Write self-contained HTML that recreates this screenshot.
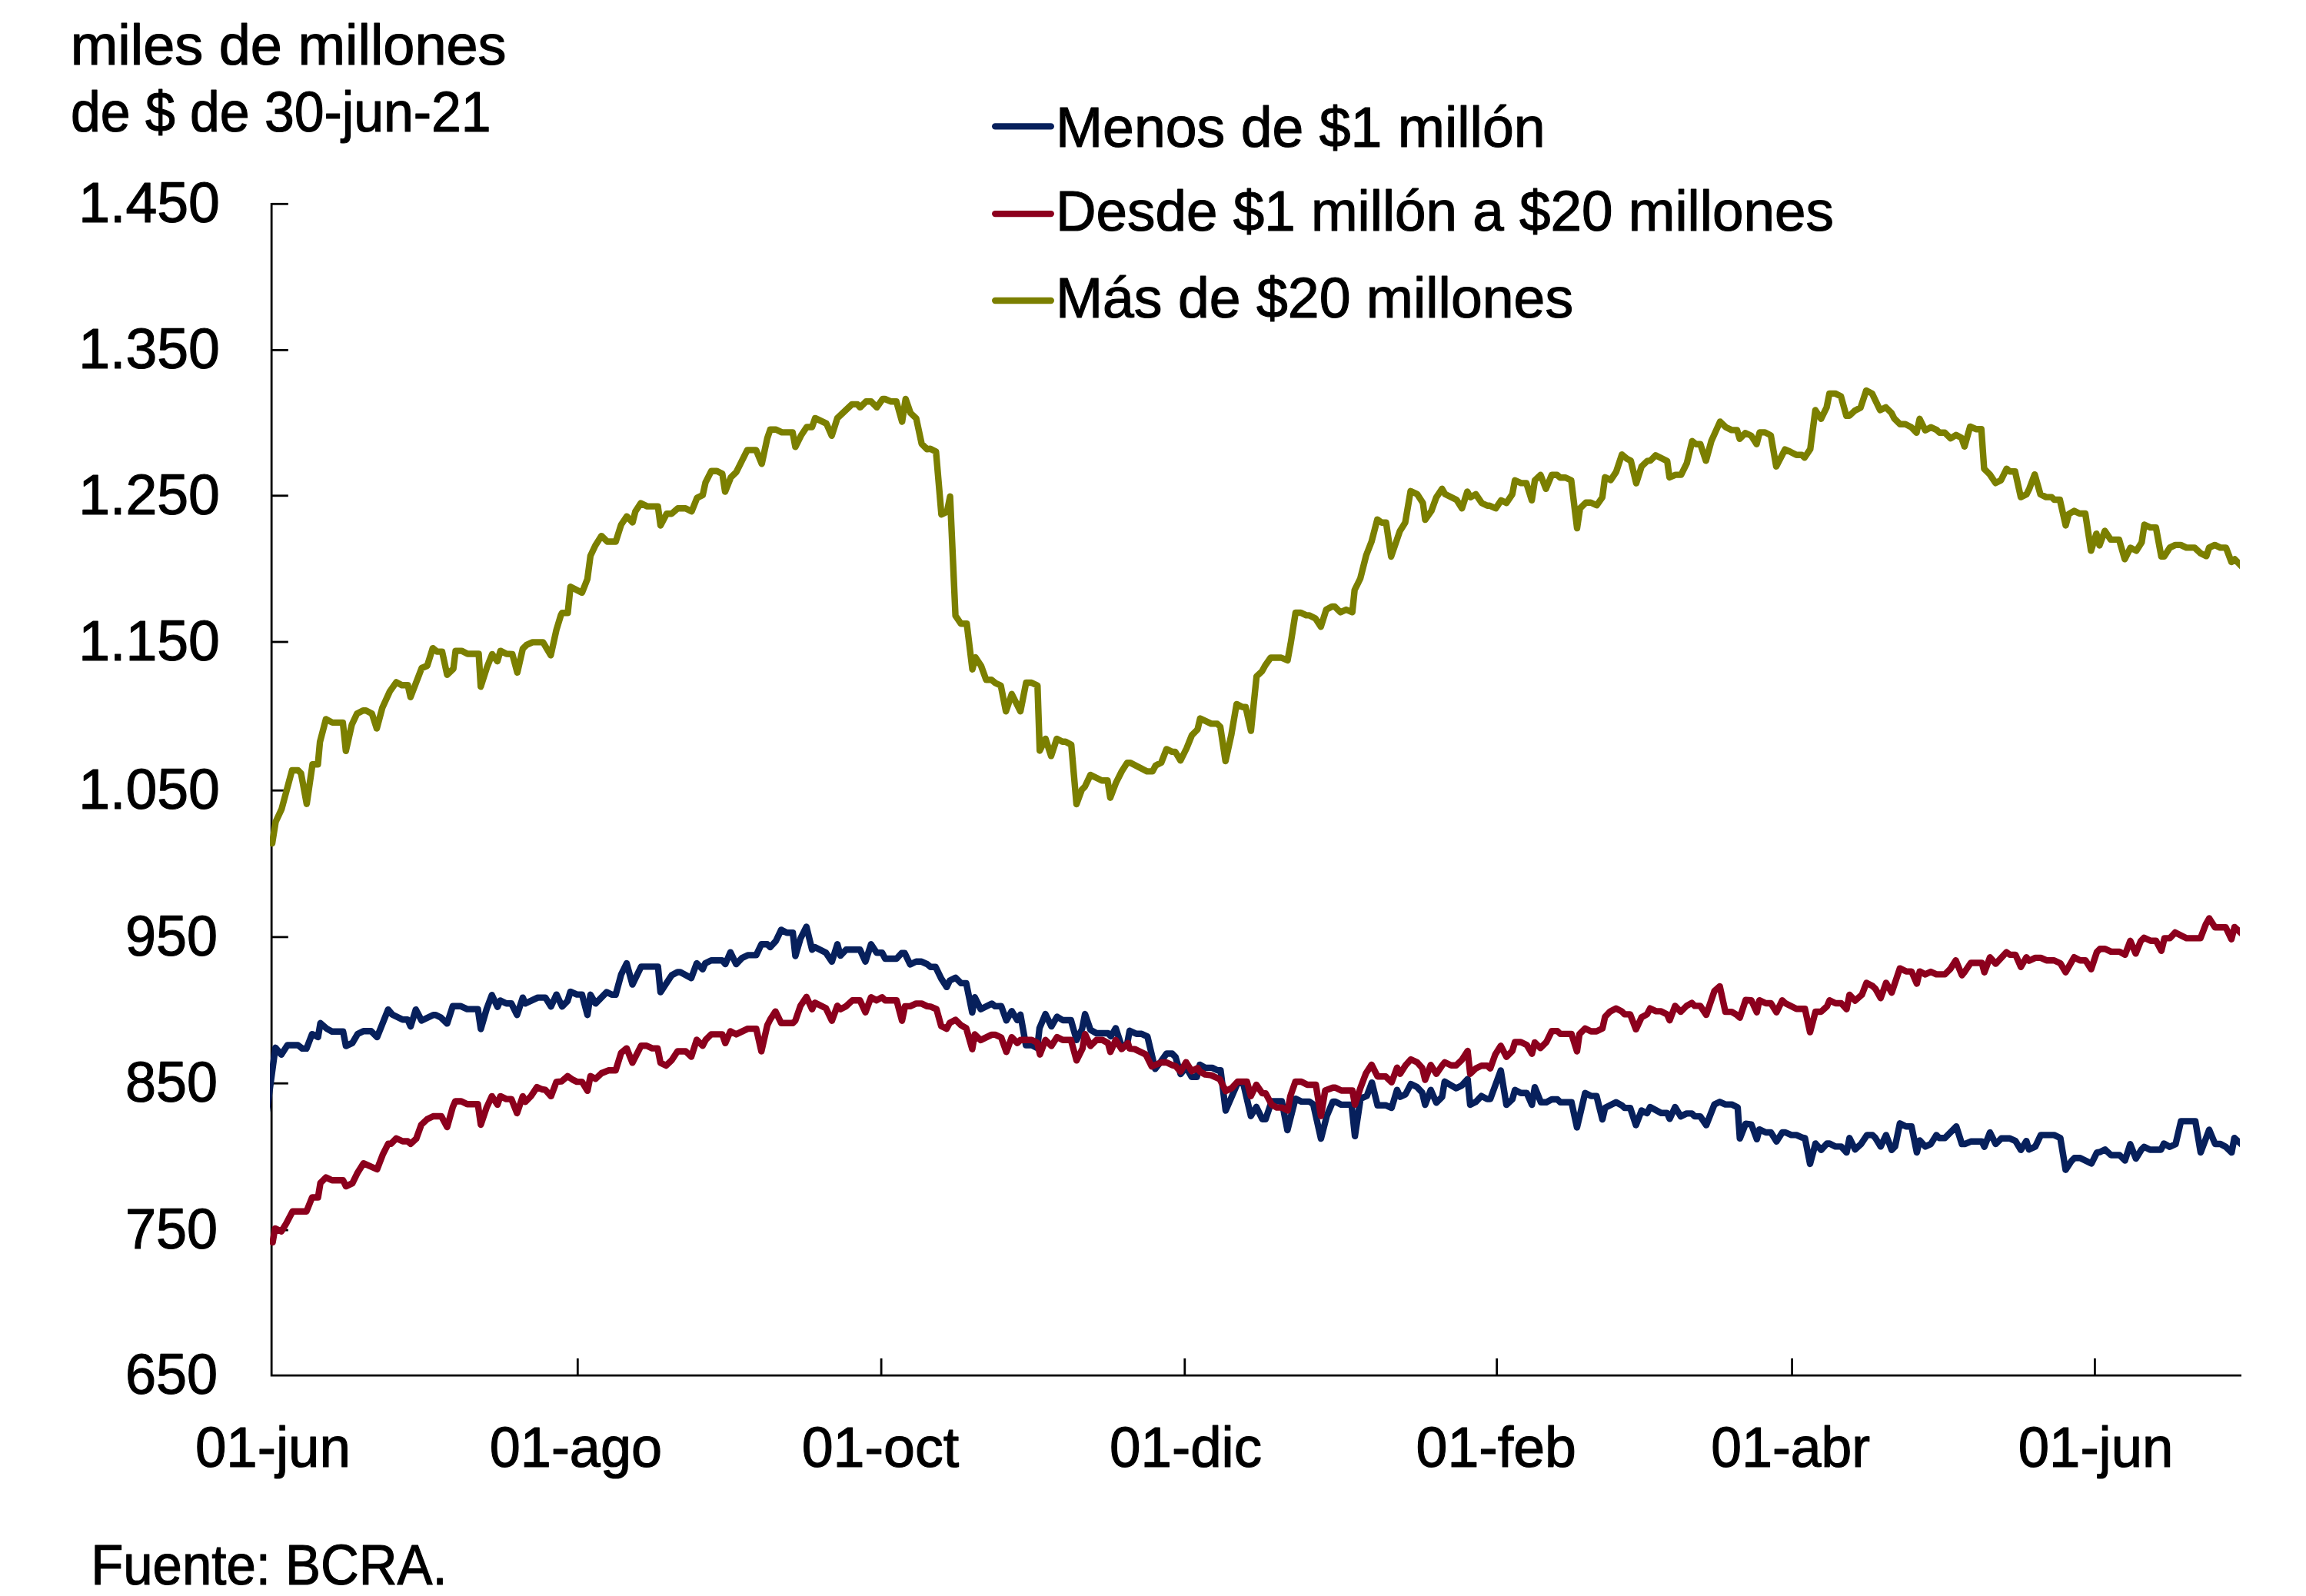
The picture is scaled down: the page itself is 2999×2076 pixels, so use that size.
<!DOCTYPE html>
<html lang="es"><head><meta charset="utf-8"><title>Gráfico</title>
<style>html,body{margin:0;padding:0;background:#fff}svg{display:block}text{font-family:"Liberation Sans", sans-serif;fill:#000;stroke:#000;stroke-width:1.2px;stroke-linejoin:round}</style></head>
<body>
<svg width="2999" height="2076" viewBox="0 0 2999 2076">
<rect width="2999" height="2076" fill="#fff"/>
<defs><clipPath id="plot"><rect x="351" y="200" width="2561.9" height="1600"/></clipPath></defs>
<g stroke="#000" stroke-width="2.8" fill="none">
<path d="M353.15,263.9V1789.1H2915"/>
<path d="M353.15,265.3H374.8"/>
<path d="M353.15,455.4H374.8"/>
<path d="M353.15,644.8H374.8"/>
<path d="M353.15,835H374.8"/>
<path d="M353.15,1028.2H374.8"/>
<path d="M353.15,1218.9H374.8"/>
<path d="M353.15,1409.2H374.8"/>
<path d="M353.15,1600.1H374.8"/>
<path d="M751.3,1789.1V1766.9"/>
<path d="M1146.1,1789.1V1766.9"/>
<path d="M1540.8,1789.1V1766.9"/>
<path d="M1946.7,1789.1V1766.9"/>
<path d="M2330.6,1789.1V1766.9"/>
<path d="M2724.4,1789.1V1766.9"/>
</g>
<g fill="none" stroke-width="8.4" stroke-linejoin="round" stroke-linecap="round" clip-path="url(#plot)">
<polyline stroke="#07205c" points="340,1496.9 358.2,1362.8 365.9,1371.7 373.8,1359.5 387.5,1359.5 393.1,1363.9 398.6,1363.9 405.9,1345.1 413.6,1349.1 416.7,1330.8 425.1,1338.1 431.8,1341.8 446.2,1341.8 449.9,1360.6 458.3,1356.6 465,1345.1 472.7,1341.2 482.6,1341.2 490.4,1349.1 504.8,1313.1 510.3,1319.7 523.6,1326.3 530.2,1326.3 534,1335.2 540.8,1313.1 548.3,1327.5 563.4,1320.2 566.7,1320.2 573.3,1323.5 581.5,1331.4 588.8,1308.7 598.8,1308.7 607.6,1312.6 621.5,1312.6 625.3,1338.5 633,1312 639.7,1294.3 647,1309.8 650.7,1301.4 658.5,1305.3 665.1,1305.3 672.4,1320.2 679.9,1297.6 683.2,1305.3 699.4,1297.6 709.3,1297.6 716.6,1309.3 723.7,1293.6 731,1309.3 738.1,1302 741.8,1289.9 750.3,1293.6 756.9,1293.6 764,1320.2 767.9,1293.8 774.6,1305.3 789,1290.5 795.6,1293.8 800.7,1293.8 807.8,1267.7 815,1253 822.5,1280.6 833.8,1257.4 855.7,1257.4 859,1290.6 866.3,1279.5 873.6,1268.5 881.1,1264.5 884.7,1264.5 899,1272.2 906.1,1253 913.8,1260.7 917.2,1253 924.9,1249.2 939.3,1249.2 943.3,1254.1 949.9,1238.6 957.4,1254.1 964.7,1246.3 972.5,1242.4 983.5,1242.4 990.2,1228.2 997.9,1228.2 1001.7,1232 1008.9,1224.2 1016,1209.4 1023.3,1213.2 1031.1,1213.2 1034.4,1243.5 1041,1220.9 1048.8,1205.4 1056.1,1235.3 1059.8,1232 1074.2,1239.3 1081.9,1250.8 1089,1228.2 1093,1243 1100.3,1235.3 1118.4,1235.3 1125.5,1250.8 1132.8,1228.2 1140.1,1239.3 1147.2,1239.3 1151.2,1247 1166,1247 1172.6,1239.7 1176.6,1239.7 1183.7,1254.5 1191.4,1250.8 1198.5,1250.8 1205.8,1254.1 1210.2,1257.8 1216.8,1257.8 1224.1,1272.9 1231.2,1283.9 1235.2,1275.5 1242.7,1271.8 1250,1278.9 1256.6,1278.9 1264.4,1317.1 1267.7,1297.2 1275.4,1312.7 1289.8,1305.4 1294.2,1308.9 1302.1,1308.6 1308.8,1327.4 1315.8,1315.2 1323.1,1327 1327.1,1319.7 1334.2,1359.5 1341.9,1359.5 1349,1363.2 1351.9,1337.4 1359.6,1319 1367.4,1335.1 1374.7,1322.5 1382.2,1327 1392.8,1327 1400.1,1352.8 1407.2,1338.5 1411.1,1319 1418.2,1339.6 1426,1344 1441,1344 1444.8,1348 1451,1337.4 1458.7,1360.6 1465.8,1358.4 1469.1,1340.7 1477.9,1344.7 1484.6,1344.7 1492.3,1348.4 1502.3,1390.4 1510,1380.5 1517.1,1370.5 1524.4,1370.5 1528.8,1375 1535.4,1397.1 1542.5,1388.2 1549.8,1400.8 1556.5,1400.8 1560.4,1384.9 1567.5,1388.9 1576.4,1388.9 1583.4,1392.2 1587.4,1392.2 1594,1444.6 1609.5,1408.8 1616.8,1408.8 1626.8,1451.7 1633.9,1439.8 1641.6,1455.7 1646,1455.7 1653.8,1432.5 1667,1432.5 1674.3,1470.1 1684.7,1429.1 1692.5,1432.9 1702.9,1432.9 1707.9,1436.4 1717.9,1481.1 1725.6,1451.3 1733.4,1432.9 1736.7,1432.9 1744.4,1436.9 1757.7,1436.9 1762.1,1477.8 1769.4,1429.1 1777.6,1425.4 1784.2,1408.1 1791.5,1437.7 1802.1,1437.7 1809.8,1441.1 1816.9,1417.8 1820.9,1426.7 1827.9,1423.4 1834.8,1410.1 1843,1414.1 1849.6,1421.2 1853.4,1437.1 1860.7,1417.8 1868,1434.4 1875.5,1426.7 1878.8,1406.8 1893.8,1415.6 1901.1,1411.9 1908.7,1403.5 1912,1437.1 1919.3,1433.3 1926.6,1425.6 1934.1,1429.6 1938.1,1429.6 1951.8,1392.4 1959.1,1437.1 1966.8,1430 1970.2,1417.8 1977.9,1421.8 1985.6,1421.8 1992.3,1437.1 1996,1414.1 2004,1433.8 2011.1,1433.8 2018.1,1430 2025.4,1430 2029.2,1433.8 2043.8,1433.8 2050.9,1466.5 2061.5,1421.8 2069,1425.6 2076.3,1425.6 2084,1456.1 2087.4,1441.1 2101.7,1433.8 2109,1437.7 2112.8,1441.1 2120.1,1441.1 2127.6,1463.6 2134.9,1444.4 2142,1448.1 2146,1440 2160.3,1447.7 2168.1,1447.7 2171.4,1455.4 2178.5,1440 2185.8,1452.1 2193.5,1448.4 2200.2,1448.4 2204.1,1452.1 2211.2,1452.1 2219,1463.6 2229.6,1436.6 2236.6,1433.3 2243.9,1436.6 2252.1,1436.6 2259.9,1440.6 2262.7,1480.9 2270.3,1461.6 2277.7,1462.6 2284.8,1481.9 2288.1,1469.1 2296.5,1473 2303.1,1473 2310.4,1484.8 2317.9,1473 2321.9,1473 2329.7,1476.4 2336.3,1476.4 2343.6,1479.7 2347.4,1480.3 2354,1514 2361.1,1487.4 2368.4,1495.8 2376.1,1487.4 2379.4,1487.4 2387.2,1491.4 2394.5,1491.4 2401.5,1499.1 2405.3,1480.3 2412.6,1495.2 2420.3,1488.1 2428.1,1476.4 2435.2,1476.4 2439.1,1480.3 2445.8,1491.4 2452.9,1476.4 2460.2,1495.8 2464.6,1491.4 2470.8,1461.3 2478.9,1465.3 2486,1465.3 2492.9,1499.1 2496.6,1483.4 2503.9,1491.4 2511,1488.1 2518.3,1476.4 2522.1,1480.3 2529.4,1480.3 2544.2,1465.3 2551.5,1488.1 2555.2,1488.1 2563,1484.8 2577.4,1484.8 2580.7,1491.8 2588,1473 2595.5,1488.1 2602.8,1480.8 2613.9,1480.8 2621.2,1484.1 2628.2,1495.8 2635.3,1484.1 2638.8,1495.2 2647,1491.4 2654.1,1476.4 2671.4,1476.4 2679.5,1480.3 2686.4,1521.7 2693.9,1510.2 2697.9,1506.2 2705.2,1506.2 2720,1513.5 2727.1,1499.1 2731.1,1498.5 2737.7,1495.2 2745.4,1502.5 2756.5,1502.5 2763.6,1509.5 2770.4,1488.2 2777.8,1507 2785,1495.2 2788.5,1491.7 2796.1,1495.5 2810.4,1495.5 2814.2,1487.5 2821.8,1491.7 2829.4,1488.2 2836.4,1458.4 2855.1,1458.4 2862,1499.1 2873.1,1469.5 2880.8,1488 2887.7,1488 2894.6,1491.7 2902.3,1499.1 2905.8,1480.2 2916.2,1489.6"/>
<polyline stroke="#8c001d" points="354.6,1616 357.7,1597.9 365.9,1601.7 372.1,1591.7 380.5,1575.8 398.6,1575.8 405.9,1557.5 413.6,1557.5 416.7,1538.7 424,1531.6 431.8,1535.3 446.2,1535.3 449.9,1543.1 458.3,1539.1 465,1525.4 472.7,1513.2 490.4,1521 498.1,1501.1 504.8,1487.8 508.5,1487.8 515.4,1480.7 523.6,1484.5 530.2,1484.5 534,1487.8 541.3,1481.2 547.9,1463 555.6,1455.7 563.4,1452 574,1452 581.5,1466.1 588.8,1440.2 592.1,1432.5 599.9,1432.5 607.6,1436.3 621.5,1436.3 625.3,1463 633,1440.2 639.7,1425.9 647,1436.9 650.7,1425.9 658.5,1429.6 665.1,1429.6 672.4,1448 679.9,1425.9 683.2,1433.2 690.5,1425.9 698.3,1414.1 704.9,1417 709.3,1417.7 716.6,1425.9 723.7,1407.1 730.3,1406.6 738.1,1399.8 744.7,1404.4 750.3,1407.1 756.9,1407.1 764,1418.8 767.9,1399.8 774.6,1403.3 782.3,1396 791.2,1392.3 800.7,1392.3 807.8,1369.5 815,1363.6 822.5,1382.4 833.8,1360.2 840.9,1360.2 848.2,1363.6 855.2,1363.6 859,1382.4 866.3,1386.1 873.6,1379 881.1,1367.5 891.7,1367.5 899,1374.6 906.1,1352.5 913.8,1360.2 917.8,1352.5 924.9,1345.4 939.3,1345.4 943.3,1356.9 949.9,1341.4 957.4,1345.4 972.5,1338.1 983.5,1338.1 990.2,1367.5 997.9,1333.7 1001.7,1326 1008.5,1315.6 1016,1330.8 1031.1,1330.8 1034.4,1327.5 1041,1308.3 1048.8,1296.8 1056.1,1312.7 1059.8,1304.3 1074.2,1311.6 1081.9,1327.7 1089,1308.3 1093,1312.7 1100.3,1308.9 1108.5,1301.2 1118.4,1301.2 1125.5,1316.7 1132.8,1297.2 1140.1,1301.2 1147.2,1297.2 1151.2,1301.2 1166,1301.2 1173.1,1327.7 1177,1308.9 1183.7,1308.9 1191.4,1305.4 1198.5,1305.4 1205.8,1308.9 1210.2,1309.4 1217.9,1312.7 1224.1,1334.8 1231.2,1338.1 1235.2,1330.4 1242.7,1326.6 1250,1333.7 1256.6,1337.5 1264.4,1364.7 1267.7,1345.4 1275.4,1352.9 1289.8,1345.9 1294.2,1345.9 1302.1,1349.5 1308.8,1368.3 1315.8,1349.1 1323.1,1356.8 1327.1,1352.8 1341.9,1352.8 1349,1356.2 1352.5,1371.6 1359.6,1352.8 1367.4,1360.6 1374.7,1349.1 1382.2,1352.8 1392.8,1352.8 1400.1,1379.4 1407.8,1363.9 1411.1,1345.1 1418.2,1360.6 1426,1352.8 1433.7,1352.8 1441,1356.8 1444.1,1368.3 1451,1352.8 1458.7,1364.6 1466.9,1356.8 1469.1,1363.9 1475.7,1364.6 1490.1,1371.6 1497.8,1387.1 1510,1382 1517.1,1382 1524.4,1385.4 1528.8,1386.7 1535.4,1393.8 1542.5,1381.6 1549.8,1393.3 1557.6,1389.3 1560.4,1393.8 1567.5,1397.7 1575.2,1398.6 1586.3,1403.7 1594,1419.2 1601.8,1415.4 1609.5,1407 1621.7,1407 1626.8,1425.8 1633.9,1411 1641.6,1422.1 1646,1422.1 1653.8,1436.9 1660.4,1440.6 1667,1440.6 1674.8,1444.6 1678.1,1425.8 1684.7,1407 1692.5,1407 1700.2,1411 1711.3,1411 1717.9,1451.7 1723.4,1418.5 1733.4,1414.8 1736.7,1414.8 1744.4,1418.5 1758.8,1418.5 1762.1,1436.9 1769.4,1414.8 1776.5,1396 1783.8,1384.9 1791.5,1400.2 1802.1,1400.2 1809.8,1407.9 1816.9,1388.7 1820.9,1396.8 1827.9,1385.8 1834.8,1378 1843,1381.8 1849.6,1389.1 1853.4,1404.6 1860.7,1385.3 1868,1396.8 1875.5,1385.8 1878.8,1381.8 1887.2,1385.8 1893.8,1385.8 1901.1,1378.7 1908.7,1367 1912,1396.8 1919.3,1389.8 1926.6,1386.2 1934.1,1386.2 1938.1,1389.8 1944.7,1371.4 1951.8,1360.3 1959.1,1374.7 1966.8,1367 1970.2,1355.5 1977.9,1355.5 1985.6,1359.2 1992.3,1370.7 1996,1355.9 2003.3,1363.2 2011.1,1355.5 2018.1,1341.1 2025.4,1341.1 2029.2,1344.9 2043.8,1344.9 2050.9,1367.6 2054.2,1344.9 2061.5,1337.8 2069,1341.5 2076.3,1341.5 2084,1337.8 2087.4,1322.7 2094,1315.7 2101.7,1311.7 2109,1315.4 2112.8,1319.4 2120.1,1319.4 2127.6,1338.9 2134.9,1323.2 2142,1319.4 2146,1311.7 2153.7,1315.4 2160.3,1315.4 2168.1,1319.4 2171.4,1327.2 2178.5,1308.4 2185.8,1316.1 2193.5,1308.4 2200.2,1304.6 2204.1,1308.4 2211.2,1308.4 2219,1320.1 2229.6,1289.1 2236.6,1282.9 2243.9,1316.1 2252.1,1316.1 2258.8,1320.1 2262.7,1323.8 2270.3,1300.6 2277.7,1301.2 2284.8,1316.7 2288.1,1301.2 2296.5,1305 2303.1,1305 2310.4,1316.7 2317.9,1301.2 2321.9,1305 2336.3,1312.3 2347.4,1312.3 2354,1342.6 2361.1,1316 2368.4,1316 2376.1,1308.9 2379.4,1301.2 2387.2,1305 2394.5,1305 2401.5,1312.7 2405.3,1293.9 2412.6,1301.6 2421.4,1293.9 2427.4,1278.4 2435.2,1282.4 2439.1,1286.2 2445.8,1298.3 2452.9,1278.4 2460.2,1291.2 2470.8,1259.6 2478.9,1263.6 2486,1263.6 2492.9,1279.5 2496.6,1263.6 2503.9,1267.4 2511,1264 2518.3,1267.4 2529.4,1267.4 2536.5,1260.3 2543.5,1249.2 2551.5,1268.5 2555.2,1264 2563,1252.5 2577.4,1252.5 2580.7,1264.7 2588,1245.2 2595.5,1253.6 2609.4,1238.6 2613.9,1241.9 2621.2,1241.9 2628.2,1257.8 2635.3,1245.2 2638.8,1249.7 2647,1245.9 2654.1,1245.9 2661.4,1249.2 2671.4,1249.2 2679.5,1253 2686.4,1264.7 2697.5,1245.2 2705.2,1249.2 2712.3,1249.2 2719.6,1260.7 2727.1,1238.2 2731.1,1234.2 2737.7,1234.2 2745.4,1237.9 2756.5,1237.9 2763.6,1241.9 2770.5,1223.8 2777.5,1240.4 2784,1224.2 2788.4,1219.8 2797,1223.8 2804,1223.8 2810.9,1236.8 2814.9,1220.4 2821.9,1220.4 2828.9,1212.9 2843.8,1220.4 2861.7,1220.4 2868.7,1202.3 2873.1,1194.5 2880.7,1206.3 2894.6,1206.3 2902,1221.8 2906,1205.9 2916.5,1215.5"/>
<polyline stroke="#7b7f00" points="354,1097.2 358.5,1069 366.2,1052.5 379.8,1002 387.6,1002 391.5,1005.9 398.9,1045.7 406.4,994.3 413.4,994.3 416.1,965.1 423.9,935.4 432.3,939.9 445.9,939.9 449.8,976.8 457.5,942.8 464.3,928.2 472.1,924.3 476,924.3 483.7,928.2 490,947.6 497.3,920.4 507.1,899.1 515.4,887.4 522.6,891.3 530.4,891.3 533.9,906.8 548.4,869 555.6,866 562.8,843.1 568.2,847.6 575,847.6 581.5,877.7 589.6,869.9 592.5,846.6 600.3,846.6 608.1,850.5 622.6,850.5 625.2,893.2 633.3,868 640.1,850.9 646.9,860.2 650.8,846.6 658.6,850.5 666.3,850.9 672.8,874.8 679.9,843.7 684.8,838.9 692.6,835.4 706.2,835.4 716.3,852.4 723.6,819.4 729.5,800 731,797.2 738.4,797.2 741.9,763.3 756.9,770.9 763.9,753.3 767.9,723 774.3,709.5 782.2,697.1 789.8,704.5 800.8,704.5 807.8,682.5 815.2,671.6 822.7,679.5 826.3,665.2 833.3,654.6 841.7,658.6 855.6,658.6 859,683.5 867,668.2 873.6,668.2 881.6,661.2 891.6,661.2 899.5,665.2 906.5,647.6 913.9,644 917.5,627.7 925.1,612.7 932.4,612.7 939.4,616.3 943,639.6 950.4,621.1 957.4,614.3 971.9,585.4 983.3,585.4 990.7,603.3 997.9,569.8 1001.7,558.8 1009.2,558.8 1016.8,562.4 1030.8,562.4 1034.4,581.4 1041.6,566.8 1049.1,555.5 1056.1,555.5 1060.1,543.9 1074.7,550.9 1081.7,566.8 1089,543.9 1108,525.9 1115,525.9 1118.6,529.9 1126.3,522.3 1132.9,522.3 1140.3,529.9 1147.9,519 1150.9,519 1158.9,522.3 1165.8,522.3 1173.2,548.5 1177.8,519 1184.2,537.3 1191.6,544.3 1198.6,577.2 1205.5,584.2 1209.9,583.8 1217.3,587.6 1224.3,669.2 1231.6,665.7 1235.6,645.8 1242.6,800.9 1249.8,811.3 1257.3,811.3 1264.6,870.7 1268.6,855 1275.9,866 1282.5,884.2 1289.4,884.2 1294.6,888.5 1301.6,891.8 1308.2,925.3 1315.8,902.8 1327.1,925.3 1334.5,888 1341.5,888 1349.3,891.8 1352.2,976.5 1359.7,960.9 1367,983.4 1374.4,960.9 1381.7,964.7 1385.7,964.7 1393.2,968.7 1400,1046.1 1406.9,1027.3 1410.9,1023.3 1418.2,1007.9 1432.9,1015.2 1440.4,1015.2 1443.9,1037.7 1451.5,1017.8 1459,1003 1465.9,992.3 1470.2,992.3 1491.9,1003.4 1498.9,1003.4 1502.9,995.7 1510.2,992.1 1517.1,974.4 1524.4,977.9 1528.4,977.9 1535.3,989.2 1543.1,973.5 1550.1,956.2 1557.4,948.9 1560.8,934.5 1575.2,941.4 1583,941.4 1587,945.4 1593.8,990 1601.3,956.2 1608.2,915.9 1616,919.7 1620,919.7 1626.9,950.6 1634.2,879.8 1641.2,873.2 1645.2,865.9 1652.5,855.5 1666.3,855.5 1674.5,859 1678.5,837.3 1684.9,797 1691.9,797 1698.9,800.4 1702.9,800.4 1710.8,804.4 1717.8,815.3 1724.8,793 1732.2,789 1735.8,789 1743.2,796.4 1750.7,793 1758.7,796.4 1761.7,767.5 1769.1,752.5 1776.7,722.6 1783.7,704.6 1791.2,675.7 1796.6,679.7 1802.6,679.7 1809.2,724 1820.6,690.7 1827.5,679.7 1834.5,638.8 1843.1,642.8 1850.5,654.2 1853.5,676.1 1861.5,664.7 1868,646.8 1875.4,635.8 1879.4,642.8 1894.4,650.2 1901.3,661.3 1908.3,639.4 1912.3,646.8 1919.3,642.8 1926.9,654.2 1934.3,657.7 1937.3,657.7 1945.2,661.3 1952.2,650.8 1959.2,654.2 1966.8,642.8 1970.2,624.8 1978.1,628.4 1985.1,628.4 1992.1,650.8 1996.1,624.8 2003.5,617.8 2010.5,635.8 2018,617.8 2025,617.8 2029,621.2 2036,621.2 2043.4,624.8 2051,687.1 2054.9,661.1 2062.5,653.8 2068.9,653.8 2076.5,657.3 2083.9,646.8 2087.3,620.8 2094.8,624.4 2101.8,613.9 2109.3,591.3 2115.9,596.7 2120.9,599.3 2127.9,628.6 2134.9,606.7 2142.2,599.7 2146.4,599.1 2153.2,592.3 2168.2,599.7 2171.2,621 2179.1,617.6 2186.3,617.6 2193.7,602.7 2200.7,573.8 2205.7,577.7 2211.3,577.7 2218.6,599.3 2225.6,573.8 2237,548.4 2244.6,555.8 2252,559.4 2259.1,559.4 2262.5,570.8 2269.9,563.2 2277.5,566.8 2284.5,577.7 2288.5,562.4 2295.4,562.4 2303,566.4 2310,606.7 2321.4,584.7 2328.4,587.7 2336.3,591.7 2343.3,591.7 2346.9,595.3 2354.3,584.1 2360.9,533.5 2368.3,544.8 2375.6,529.9 2379.2,511.9 2386.8,511.9 2394.2,515.5 2401.2,540.8 2405.2,540.8 2412.1,534.3 2419.7,530.3 2427.1,507.9 2434.7,511.9 2445.1,533.5 2452.6,529.9 2460,537.3 2463.4,544.2 2471,551.8 2478,551.8 2485.3,555.4 2492.5,562.8 2496.5,544.8 2503.9,559.8 2511.3,555.8 2518.9,559.4 2522.4,562.8 2529.2,562.8 2536.8,570.2 2543.9,565.8 2550.9,569.4 2554.9,580.8 2562.2,554.9 2569.8,558.2 2576.8,558.2 2580.4,609.7 2587.8,617.1 2595.2,628.3 2602.3,624.7 2609.7,609.7 2613.7,613.3 2620.7,613.3 2628.1,646.6 2635.6,643 2639.2,635.6 2646.2,617.1 2653.6,643 2661,646.6 2668.2,646.6 2671.6,650 2678.9,650 2686.5,683.5 2690.5,668.6 2697.5,664.6 2704.5,668 2712,668 2719.4,716.4 2726.4,694.1 2730.4,709.5 2737.4,690.5 2745,701.9 2755.9,701.9 2763.3,727.4 2770.7,712.4 2778.3,716.4 2785.3,705.5 2788.8,682.5 2796.6,686.1 2803.8,686.1 2810.8,723.8 2814.6,723.8 2821.8,712.4 2829.1,708.9 2836.1,708.9 2843.5,712.4 2854.1,712.4 2862.1,719.8 2869.4,723.4 2873,712.4 2880.4,708.9 2887.6,712.4 2895,712.4 2902,731 2906.3,727.4 2915.9,737.4"/>
</g>
<g fill="none" stroke-width="8.4" stroke-linecap="round">
<path stroke="#07205c" d="M1294.2,164.4H1366.8"/>
<path stroke="#8c001d" d="M1294.2,278.1H1366.8"/>
<path stroke="#7b7f00" d="M1294.2,391H1366.8"/>
</g>
<text x="91.72" y="83.5" font-size="75" textLength="566.87" lengthAdjust="spacingAndGlyphs">miles de millones</text>
<text x="92.01" y="170.8" font-size="75" textLength="546.42" lengthAdjust="spacingAndGlyphs">de $ de 30-jun-21</text>
<text x="1372.9" y="190.5" font-size="75" textLength="636.66" lengthAdjust="spacingAndGlyphs">Menos de $1 millón</text>
<text x="1372.95" y="300.4" font-size="75" textLength="1011.93" lengthAdjust="spacingAndGlyphs">Desde $1 millón a $20 millones</text>
<text x="1372.9" y="413" font-size="75" textLength="673.21" lengthAdjust="spacingAndGlyphs">Más de $20 millones</text>
<text x="118.16" y="2060.7" font-size="75" textLength="463.51" lengthAdjust="spacingAndGlyphs">Fuente: BCRA.</text>
<text x="253.92" y="1908.2" font-size="75" textLength="202.02" lengthAdjust="spacingAndGlyphs">01-jun</text>
<text x="636.85" y="1908.2" font-size="75" textLength="224.09" lengthAdjust="spacingAndGlyphs">01-ago</text>
<text x="1042.69" y="1908.2" font-size="75" textLength="204.56" lengthAdjust="spacingAndGlyphs">01-oct</text>
<text x="1443.02" y="1908.2" font-size="75" textLength="198.11" lengthAdjust="spacingAndGlyphs">01-dic</text>
<text x="1841.5" y="1908.2" font-size="75" textLength="208.52" lengthAdjust="spacingAndGlyphs">01-feb</text>
<text x="2225.36" y="1908.2" font-size="75" textLength="206.7" lengthAdjust="spacingAndGlyphs">01-abr</text>
<text x="2624.73" y="1908.2" font-size="75" textLength="201.61" lengthAdjust="spacingAndGlyphs">01-jun</text>
<text x="102.21" y="289.2" font-size="75" textLength="183.62" lengthAdjust="spacingAndGlyphs">1.450</text>
<text x="102.21" y="479.3" font-size="75" textLength="183.62" lengthAdjust="spacingAndGlyphs">1.350</text>
<text x="102.21" y="668.7" font-size="75" textLength="183.62" lengthAdjust="spacingAndGlyphs">1.250</text>
<text x="102.21" y="858.9" font-size="75" textLength="183.62" lengthAdjust="spacingAndGlyphs">1.150</text>
<text x="102.21" y="1052.1" font-size="75" textLength="183.62" lengthAdjust="spacingAndGlyphs">1.050</text>
<text x="163.12" y="1242.6" font-size="75" textLength="119.94" lengthAdjust="spacingAndGlyphs">950</text>
<text x="163.12" y="1432.9" font-size="75" textLength="119.94" lengthAdjust="spacingAndGlyphs">850</text>
<text x="162.9" y="1623.8" font-size="75" textLength="120.17" lengthAdjust="spacingAndGlyphs">750</text>
<text x="162.93" y="1812.7" font-size="75" textLength="120.14" lengthAdjust="spacingAndGlyphs">650</text>
</svg>
</body></html>
